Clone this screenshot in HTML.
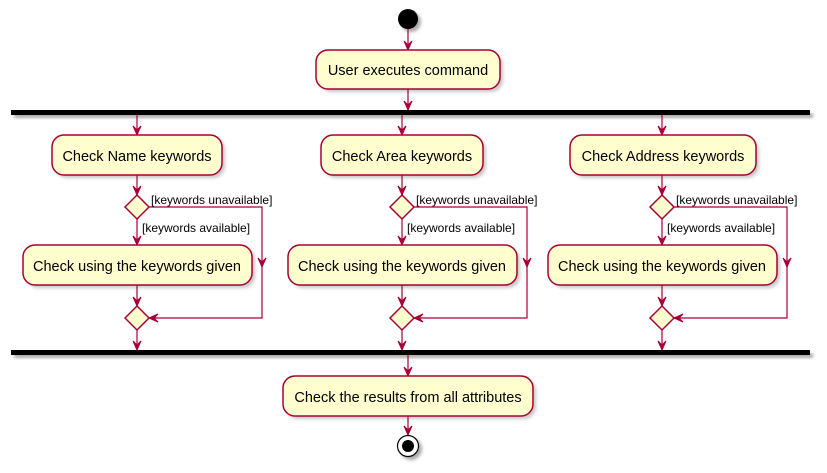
<!DOCTYPE html>
<html><head><meta charset="utf-8"><style>
html,body{margin:0;padding:0;background:#fff;}
svg{display:block;}
text{font-family:"Liberation Sans",sans-serif;fill:#000;}
.b{font-size:14.5px;}
.l{font-size:12px;}
.box{fill:#FEFECE;stroke:#A80036;stroke-width:1.5;}
.sh{fill:#c8c8c8;}
.ln{stroke:#A80036;stroke-width:1.2;fill:none;}
.ah{fill:#A80036;stroke:#A80036;}
</style></head><body>
<svg width="827" height="473" viewBox="0 0 827 473" xmlns="http://www.w3.org/2000/svg">
<defs>
<filter id="f" x="-10%" y="-10%" width="130%" height="140%"><feGaussianBlur stdDeviation="1.5"/></filter>
</defs>
<circle cx="411" cy="22" r="10" fill="#aaa" filter="url(#f)"/>
<circle cx="408" cy="19" r="10" fill="#000"/>
<line class="ln" x1="408" y1="29" x2="408" y2="50"/>
<polygon class="ah" points="404,41 408,50 412,41 408,45"/>
<rect class="sh" x="319" y="53" width="184" height="39" rx="12" filter="url(#f)"/>
<rect class="box" x="316" y="50" width="184" height="39" rx="12"/>
<text class="b" x="408" y="75" text-anchor="middle">User executes command</text>
<line class="ln" x1="408" y1="89" x2="408" y2="110"/>
<polygon class="ah" points="404,101 408,110 412,101 408,105"/>
<rect x="14" y="113" width="799" height="5" fill="#aaa" filter="url(#f)"/>
<rect x="11" y="110" width="799" height="5" fill="#000"/>
<rect x="14" y="353" width="799" height="5" fill="#aaa" filter="url(#f)"/>
<rect x="11" y="350" width="799" height="5" fill="#000"/>

<g>
<line class="ln" x1="137" y1="115" x2="137" y2="135"/><polygon class="ah" points="133,126 137,135 141,126 137,130"/>
<rect class="sh" x="55" y="138" width="170" height="40" rx="12" filter="url(#f)"/>
<rect class="box" x="52" y="135" width="170" height="40" rx="12"/>
<text class="b" x="137" y="161" text-anchor="middle">Check Name keywords</text>
<line class="ln" x1="137" y1="175" x2="137" y2="195"/><polygon class="ah" points="133,186 137,195 141,186 137,190"/>
<polygon class="box" points="137,195 149,207 137,219 125,207"/>
<text class="l" x="151" y="204">[keywords unavailable]</text>
<text class="l" x="142" y="232">[keywords available]</text>
<line class="ln" x1="137" y1="219" x2="137" y2="245"/><polygon class="ah" points="133,236 137,245 141,236 137,240"/>
<rect class="sh" x="26" y="248" width="229" height="40" rx="12" filter="url(#f)"/>
<rect class="box" x="23" y="245" width="229" height="40" rx="12"/>
<text class="b" x="137" y="271" text-anchor="middle">Check using the keywords given</text>
<line class="ln" x1="137" y1="285" x2="137" y2="306"/><polygon class="ah" points="133,297 137,306 141,297 137,301"/>
<polyline class="ln" points="149,207 262,207 262,318 149,318"/>
<polygon class="ah" points="258,258 262,267 266,258 262,262"/>
<polygon class="ah" points="158,314 149,318 158,322 154,318"/>
<polygon class="box" points="137,306 149,318 137,330 125,318"/>
<line class="ln" x1="137" y1="330" x2="137" y2="350"/><polygon class="ah" points="133,341 137,350 141,341 137,345"/>
</g>

<g>
<line class="ln" x1="402" y1="115" x2="402" y2="135"/><polygon class="ah" points="398,126 402,135 406,126 402,130"/>
<rect class="sh" x="324" y="138" width="162" height="40" rx="12" filter="url(#f)"/>
<rect class="box" x="321" y="135" width="162" height="40" rx="12"/>
<text class="b" x="402" y="161" text-anchor="middle">Check Area keywords</text>
<line class="ln" x1="402" y1="175" x2="402" y2="195"/><polygon class="ah" points="398,186 402,195 406,186 402,190"/>
<polygon class="box" points="402,195 414,207 402,219 390,207"/>
<text class="l" x="416" y="204">[keywords unavailable]</text>
<text class="l" x="407" y="232">[keywords available]</text>
<line class="ln" x1="402" y1="219" x2="402" y2="245"/><polygon class="ah" points="398,236 402,245 406,236 402,240"/>
<rect class="sh" x="291" y="248" width="229" height="40" rx="12" filter="url(#f)"/>
<rect class="box" x="288" y="245" width="229" height="40" rx="12"/>
<text class="b" x="402" y="271" text-anchor="middle">Check using the keywords given</text>
<line class="ln" x1="402" y1="285" x2="402" y2="306"/><polygon class="ah" points="398,297 402,306 406,297 402,301"/>
<polyline class="ln" points="414,207 527,207 527,318 414,318"/>
<polygon class="ah" points="523,258 527,267 531,258 527,262"/>
<polygon class="ah" points="423,314 414,318 423,322 419,318"/>
<polygon class="box" points="402,306 414,318 402,330 390,318"/>
<line class="ln" x1="402" y1="330" x2="402" y2="350"/><polygon class="ah" points="398,341 402,350 406,341 402,345"/>
</g>

<g>
<line class="ln" x1="662" y1="115" x2="662" y2="135"/><polygon class="ah" points="658,126 662,135 666,126 662,130"/>
<rect class="sh" x="573" y="138" width="186" height="40" rx="12" filter="url(#f)"/>
<rect class="box" x="570" y="135" width="186" height="40" rx="12"/>
<text class="b" x="663" y="161" text-anchor="middle">Check Address keywords</text>
<line class="ln" x1="662" y1="175" x2="662" y2="195"/><polygon class="ah" points="658,186 662,195 666,186 662,190"/>
<polygon class="box" points="662,195 674,207 662,219 650,207"/>
<text class="l" x="676" y="204">[keywords unavailable]</text>
<text class="l" x="667" y="232">[keywords available]</text>
<line class="ln" x1="662" y1="219" x2="662" y2="245"/><polygon class="ah" points="658,236 662,245 666,236 662,240"/>
<rect class="sh" x="551" y="248" width="229" height="40" rx="12" filter="url(#f)"/>
<rect class="box" x="548" y="245" width="229" height="40" rx="12"/>
<text class="b" x="662" y="271" text-anchor="middle">Check using the keywords given</text>
<line class="ln" x1="662" y1="285" x2="662" y2="306"/><polygon class="ah" points="658,297 662,306 666,297 662,301"/>
<polyline class="ln" points="674,207 787,207 787,318 674,318"/>
<polygon class="ah" points="783,258 787,267 791,258 787,262"/>
<polygon class="ah" points="683,314 674,318 683,322 679,318"/>
<polygon class="box" points="662,306 674,318 662,330 650,318"/>
<line class="ln" x1="662" y1="330" x2="662" y2="350"/><polygon class="ah" points="658,341 662,350 666,341 662,345"/>
</g>

<line class="ln" x1="408" y1="355" x2="408" y2="376"/><polygon class="ah" points="404,367 408,376 412,367 408,371"/>
<rect class="sh" x="286" y="379" width="250" height="40" rx="12" filter="url(#f)"/>
<rect class="box" x="283" y="376" width="250" height="40" rx="12"/>
<text class="b" x="408" y="402" text-anchor="middle">Check the results from all attributes</text>
<line class="ln" x1="408" y1="416" x2="408" y2="435"/><polygon class="ah" points="404,426 408,435 412,426 408,430"/>
<circle cx="411" cy="449" r="11" fill="#aaa" filter="url(#f)"/>
<circle cx="408" cy="446" r="10.5" fill="#fff" stroke="#000" stroke-width="1.2"/>
<circle cx="408" cy="446" r="6" fill="#000"/>
</svg>
</body></html>
